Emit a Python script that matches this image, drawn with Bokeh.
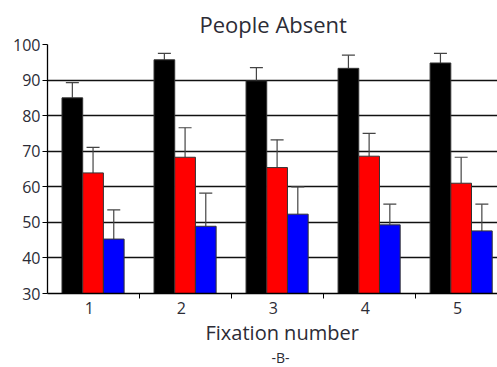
from bokeh.plotting import figure
from bokeh.models import ColumnDataSource, Range1d, FixedTicker, Whisker, TeeHead, Title
from bokeh.transform import dodge
from bokeh.embed import file_html
from bokeh.resources import INLINE

# ---- data ----
fixation = [1, 2, 3, 4, 5]
tick_labels = ["1", "2", "3", "4", "5"]
black_vals = [85.0, 95.7, 89.8, 93.3, 94.8]
black_err = [4.3, 1.8, 3.7, 3.7, 2.7]
red_vals = [63.9, 68.3, 65.4, 68.6, 61.0]
red_err = [7.2, 8.3, 7.8, 6.4, 7.3]
blue_vals = [45.3, 48.9, 52.3, 49.3, 47.6]
blue_err = [8.2, 9.3, 7.7, 5.8, 7.5]
y_ticks = [30, 40, 50, 60, 70, 80, 90, 100]

FONT = "Open Sans"
TXT = "#2c2c36"

p = figure(width=497, height=367, output_backend="svg", toolbar_location=None,
           x_range=Range1d(0.5, 5.39), y_range=Range1d(30, 100),
           min_border_left=47, min_border_right=0, min_border_top=44, min_border_bottom=74)
p.title.text = "People Absent"
p.title.align = "left"
p.title.offset = 152
p.title.standoff = 11
p.title.text_font = FONT
p.title.text_font_size = "22px"
p.title.text_font_style = "normal"
p.title.text_color = TXT
p.outline_line_color = None
p.background_fill_color = "white"
p.border_fill_color = "white"

src = ColumnDataSource(dict(
    x=fixation,
    black=black_vals, black_up=[v + e for v, e in zip(black_vals, black_err)],
    red=red_vals, red_up=[v + e for v, e in zip(red_vals, red_err)],
    blue=blue_vals, blue_up=[v + e for v, e in zip(blue_vals, blue_err)],
))

W = 0.225
series = [("black", "black", -0.23), ("red", "#ff0000", -0.005), ("blue", "#0000ff", 0.22)]
for name, col, off in series:
    p.vbar(x=dodge("x", off), top=name, bottom=30, width=W, source=src,
           fill_color=col, line_color="#333333", line_width=1)
for name, col, off in series:
    wk = Whisker(base=dodge("x", off), upper=name + "_up", lower=name, source=src,
                 dimension="height", line_color="#444444", line_width=1.2,
                 upper_head=TeeHead(size=13, line_color="#444444", line_width=1.2),
                 lower_head=None, level="underlay")
    p.add_layout(wk)

# grid
p.xgrid.visible = False
p.ygrid.ticker = FixedTicker(ticks=y_ticks)
p.ygrid.grid_line_color = "#111111"
p.ygrid.grid_line_width = 1.4

# y axis
p.yaxis.ticker = FixedTicker(ticks=y_ticks)
p.yaxis.axis_line_color = "black"
p.yaxis.axis_line_width = 1.3
p.yaxis.major_tick_in = 0
p.yaxis.major_tick_out = 5
p.yaxis.minor_tick_line_color = None
p.yaxis.major_label_text_font = FONT
p.yaxis.major_label_text_font_size = "16px"
p.yaxis.major_label_text_color = TXT
p.yaxis.major_label_standoff = 2

# x axis
p.xaxis.ticker = FixedTicker(ticks=[x - 0.045 for x in fixation],
                             minor_ticks=[x + 0.5 for x in fixation])
p.xaxis.major_label_overrides = {x - 0.045: t for x, t in zip(fixation, tick_labels)}
p.xaxis.major_tick_line_color = None
p.xaxis.minor_tick_line_color = "black"
p.xaxis.minor_tick_in = 0
p.xaxis.minor_tick_out = 5
p.xaxis.axis_line_color = "black"
p.xaxis.axis_line_width = 1.3
p.xaxis.major_label_text_font = FONT
p.xaxis.major_label_text_font_size = "16px"
p.xaxis.major_label_text_color = TXT
p.xaxis.major_label_standoff = 2

xlab = Title(text="Fixation number", align="left", offset=158, standoff=0,
             text_font=FONT, text_font_size="20px", text_font_style="normal", text_color=TXT)
p.add_layout(xlab, "below")
sub = Title(text="-B-", align="left", offset=224, standoff=0,
            text_font=FONT, text_font_size="14px", text_font_style="normal", text_color=TXT)
p.add_layout(sub, "below")

open("out.html", "w").write(file_html(p, INLINE))
